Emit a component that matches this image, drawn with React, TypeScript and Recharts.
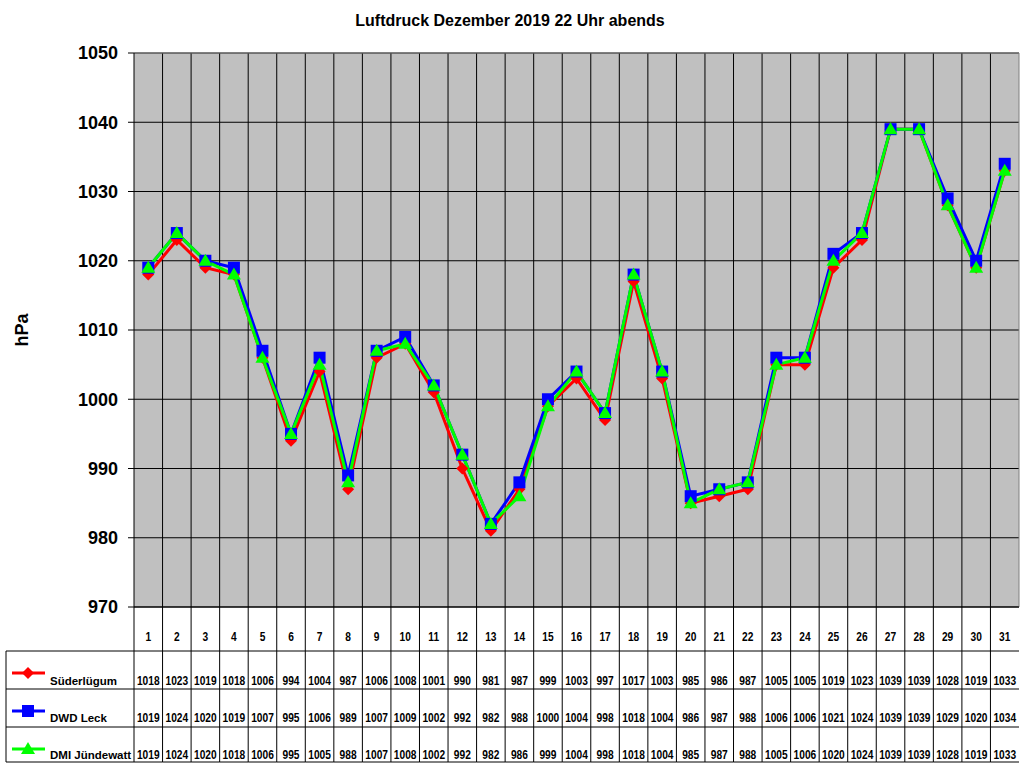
import React from 'react';
import { LineChart, Line, XAxis, YAxis, CartesianGrid, ReferenceLine } from 'recharts';

// Days of December 2019
const days = [1, 2, 3, 4, 5, 6, 7, 8, 9, 10, 11, 12, 13, 14, 15, 16, 17, 18, 19, 20, 21, 22, 23, 24, 25, 26, 27, 28, 29, 30, 31];

// Air pressure at 22:00 in hPa
const suederluegum = [1018, 1023, 1019, 1018, 1006, 994, 1004, 987, 1006, 1008, 1001, 990, 981, 987, 999, 1003, 997, 1017, 1003, 985, 986, 987, 1005, 1005, 1019, 1023, 1039, 1039, 1028, 1019, 1033];
const dwdLeck = [1019, 1024, 1020, 1019, 1007, 995, 1006, 989, 1007, 1009, 1002, 992, 982, 988, 1000, 1004, 998, 1018, 1004, 986, 987, 988, 1006, 1006, 1021, 1024, 1039, 1039, 1029, 1020, 1034];
const dmiJuendewatt = [1019, 1024, 1020, 1018, 1006, 995, 1005, 988, 1007, 1008, 1002, 992, 982, 986, 999, 1004, 998, 1018, 1004, 985, 987, 988, 1005, 1006, 1020, 1024, 1039, 1039, 1028, 1019, 1033];

const yTicks = [970, 980, 990, 1000, 1010, 1020, 1030, 1040, 1050];
const columnBounds = [1.5, 2.5, 3.5, 4.5, 5.5, 6.5, 7.5, 8.5, 9.5, 10.5, 11.5, 12.5, 13.5, 14.5, 15.5, 16.5, 17.5, 18.5, 19.5, 20.5, 21.5, 22.5, 23.5, 24.5, 25.5, 26.5, 27.5, 28.5, 29.5, 30.5];

const series = [
  { key: 'sued', name: 'Süderlügum', color: '#FF0000', values: suederluegum, marker: 'diamond' },
  { key: 'dwd', name: 'DWD Leck', color: '#0000FF', values: dwdLeck, marker: 'square' },
  { key: 'dmi', name: 'DMI Jündewatt', color: '#00FF00', values: dmiJuendewatt, marker: 'triangle' },
];

const chartData = days.map((day, i) => ({
  day,
  sued: suederluegum[i],
  dwd: dwdLeck[i],
  dmi: dmiJuendewatt[i],
}));

const FONT = '"Liberation Sans", Arial, sans-serif';

const W = 1024;
const H = 768;
const MARGIN = { top: 53, right: 5, left: 6, bottom: 0 };
const Y_AXIS_W = 128;
const X_AXIS_H = 161;
const BW = (W - MARGIN.left - MARGIN.right - Y_AXIS_W) / days.length;
const LEGEND_W = 128;

// table row offsets below the plot bottom
const ROW_LINES = [44, 82, 120, 155];
const ROW_TEXT = [78, 115, 152];
const ROW_MARK = [66, 104, 142];

const Marker = ({ type, cx, cy, color }: { type: string; cx: number; cy: number; color: string }) => {
  if (type === 'diamond') {
    return <polygon points={`${cx},${cy - 6} ${cx + 6},${cy} ${cx},${cy + 6} ${cx - 6},${cy}`} fill={color} />;
  }
  if (type === 'square') {
    return <rect x={cx - 6} y={cy - 6} width={12} height={12} fill={color} />;
  }
  return <polygon points={`${cx},${cy - 7} ${cx + 7},${cy + 5} ${cx - 7},${cy + 5}`} fill={color} />;
};

const makeDot = (type: string, color: string) => (props: any) => {
  const { cx, cy, index } = props;
  if (cx == null || cy == null) return <g key={`d-${index}`} />;
  return (
    <g key={`${type}-${index}`}>
      <Marker type={type} cx={cx} cy={cy} color={color} />
    </g>
  );
};

const TableTick = (props: any) => {
  const { x, y, payload, index } = props;
  const i = payload.value - 1;
  const left = x - BW / 2;
  const right = x + BW / 2;
  const isLast = index === days.length - 1;
  const lineStart = index === 0 ? left - LEGEND_W : left;
  const squeeze = `translate(${x} 0) scale(0.85 1) translate(${-x} 0)`;
  return (
    <g>
      {!isLast && <line x1={right} y1={y} x2={right} y2={y + ROW_LINES[3]} stroke="#000" />}
      {index === 0 && <line x1={left} y1={y} x2={left} y2={y + ROW_LINES[3]} stroke="#000" />}
      {index === 0 && (
        <line x1={left - LEGEND_W} y1={y + ROW_LINES[0]} x2={left - LEGEND_W} y2={y + ROW_LINES[3]} stroke="#000" />
      )}
      {ROW_LINES.map((off) => (
        <line key={off} x1={lineStart} y1={y + off} x2={right} y2={y + off} stroke="#000" />
      ))}
      <text x={x} y={y + 34} textAnchor="middle" fontFamily={FONT} fontWeight="bold" fontSize={12} fill="#000" transform={squeeze}>
        {payload.value}
      </text>
      {series.map((s, r) => (
        <text
          key={s.key}
          x={x}
          y={y + ROW_TEXT[r]}
          textAnchor="middle"
          fontFamily={FONT}
          fontWeight="bold"
          fontSize={12}
          fill="#000"
          transform={squeeze}
        >
          {s.values[i]}
        </text>
      ))}
      {index === 0 &&
        series.map((s, r) => (
          <g key={`leg-${s.key}`}>
            <line
              x1={left - LEGEND_W + 6}
              y1={y + ROW_MARK[r]}
              x2={left - LEGEND_W + 39}
              y2={y + ROW_MARK[r]}
              stroke={s.color}
              strokeWidth={3}
            />
            <Marker type={s.marker} cx={left - LEGEND_W + 22} cy={y + ROW_MARK[r]} color={s.color} />
            <text
              x={left - LEGEND_W + 44}
              y={y + ROW_TEXT[r]}
              fontFamily={FONT}
              fontWeight="bold"
              fontSize={11.5}
              fill="#000"
            >
              {s.name}
            </text>
          </g>
        ))}
    </g>
  );
};

const renderYLabel = (props: any) => {
  const { viewBox } = props;
  const cx = viewBox.x + 16;
  const cy = viewBox.y + viewBox.height / 2;
  return (
    <text
      x={cx}
      y={cy}
      transform={`rotate(-90, ${cx}, ${cy})`}
      textAnchor="middle"
      dominantBaseline="central"
      fontFamily={FONT}
      fontWeight="bold"
      fontSize={18}
      fill="#000"
    >
      hPa
    </text>
  );
};

export default function App() {
  return (
    <div style={{ position: 'absolute', left: 0, top: 0, width: W, height: H, background: '#fff' }}>
      <div
        style={{
          position: 'absolute',
          left: 0,
          top: 13,
          width: 1020,
          textAlign: 'center',
          fontFamily: FONT,
          fontWeight: 'bold',
          fontSize: 16,
          lineHeight: '16px',
          color: '#000',
        }}
      >
        Luftdruck Dezember 2019 22 Uhr abends
      </div>
      <LineChart width={W} height={H} data={chartData} margin={MARGIN}>
        <CartesianGrid vertical={false} stroke="#000" fill="#C0C0C0" />
        {columnBounds.map((b) => (
          <ReferenceLine key={b} x={b} stroke="#000" />
        ))}
        <ReferenceLine x={31.5} stroke="#808080" />
        <ReferenceLine y={1050} stroke="#808080" />
        <XAxis
          dataKey="day"
          type="number"
          domain={[0.5, 31.5]}
          ticks={days}
          interval={0}
          height={X_AXIS_H}
          tickLine={false}
          tickSize={0}
          tickMargin={0}
          axisLine={{ stroke: '#000' }}
          tick={<TableTick />}
        />
        <YAxis
          domain={[970, 1050]}
          ticks={yTicks}
          interval={0}
          width={Y_AXIS_W}
          tickSize={6}
          tickMargin={10}
          tickLine={{ stroke: '#000' }}
          axisLine={{ stroke: '#000' }}
          tick={{ fill: '#000', fontSize: 18, fontWeight: 'bold', fontFamily: FONT }}
          label={renderYLabel}
        />
        {series.map((s) => (
          <Line
            key={s.key}
            dataKey={s.key}
            name={s.name}
            type="linear"
            stroke={s.color}
            strokeWidth={3}
            dot={makeDot(s.marker, s.color)}
            activeDot={false}
            isAnimationActive={false}
          />
        ))}
      </LineChart>
    </div>
  );
}
